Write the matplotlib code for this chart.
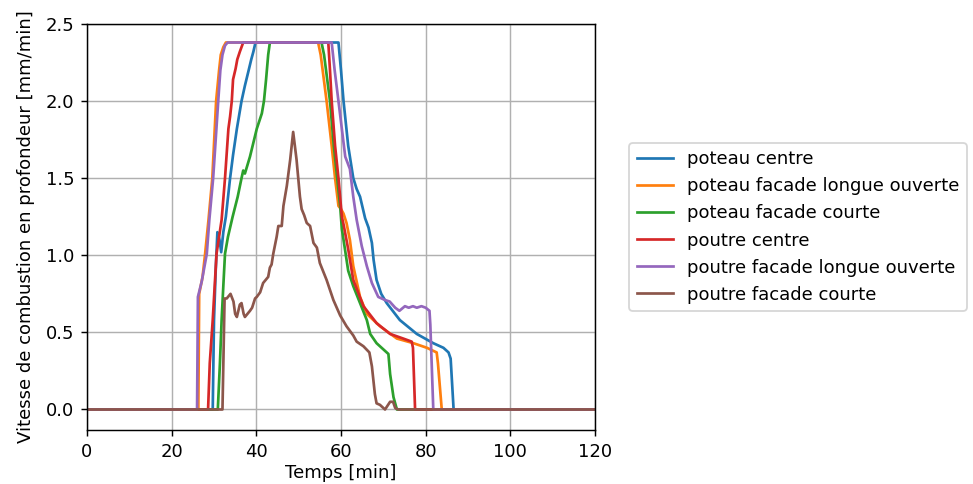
import matplotlib
matplotlib.use("Agg")
import matplotlib.pyplot as plt

# temps [min] / vitesse [mm/min]
t_poteau_centre = [0, 29.7, 30.0, 30.4, 30.8, 31.3, 31.7, 32.2, 32.8, 33.8, 34.5, 35.4, 36.5, 37.3,
                   38.1, 38.8, 39.3, 39.8, 59.4, 60.0, 60.6, 61.7, 62.9, 63.7, 64.5, 65.7, 66.5,
                   67.3, 67.7, 68.4, 69.5, 70.8, 73.9, 77.9, 81.8, 84.2, 85.4, 85.9, 86.6, 120]
v_poteau_centre = [0, 0, 0.58, 0.9, 1.15, 1.1, 1.02, 1.15, 1.25, 1.5, 1.65, 1.82, 2.0, 2.1,
                   2.19, 2.27, 2.32, 2.38, 2.38, 2.2, 2.0, 1.71, 1.5, 1.43, 1.38, 1.24, 1.18,
                   1.08, 0.97, 0.84, 0.75, 0.69, 0.58, 0.49, 0.43, 0.40, 0.37, 0.33, 0, 0]

t_poteau_long = [0, 26.3, 26.5, 27.3, 27.9, 28.7, 29.6, 30.5, 31.2, 31.6, 32.2, 32.8, 54.6, 55.2,
                 56.6, 57.8, 58.6, 59.4, 60.0, 60.6, 61.3, 62.1, 62.9, 64.5, 66.1, 69.2, 73.2,
                 77.1, 80.3, 82.6, 82.9, 83.8, 120]
v_poteau_long = [0, 0, 0.75, 0.86, 1.01, 1.23, 1.5, 2.0, 2.2, 2.3, 2.35, 2.38, 2.38, 2.3,
                 2.0, 1.71, 1.5, 1.32, 1.30, 1.27, 1.21, 1.10, 0.93, 0.73, 0.62, 0.54, 0.46,
                 0.43, 0.40, 0.37, 0.30, 0, 0]

t_poteau_courte = [0, 30.9, 31.4, 31.8, 32.2, 32.6, 33.3, 34.4, 35.6, 36.5, 36.9, 37.3, 38.5,
                   40.1, 41.3, 41.8, 42.3, 42.8, 43.2, 55.4, 56.0, 57.4, 58.3, 59.1, 59.8, 60.2,
                   60.6, 61.7, 62.9, 64.5, 66.1, 66.9, 68.4, 70.4, 71.2, 71.6, 72.4, 73.2, 120]
v_poteau_courte = [0, 0, 0.3, 0.58, 0.8, 1.01, 1.12, 1.25, 1.38, 1.5, 1.55, 1.53, 1.64,
                   1.82, 1.92, 2.0, 2.14, 2.3, 2.38, 2.38, 2.3, 2.0, 1.71, 1.5, 1.32, 1.17,
                   1.10, 0.90, 0.80, 0.69, 0.58, 0.49, 0.43, 0.38, 0.36, 0.23, 0.08, 0, 0]

t_poutre_centre = [0, 28.6, 29.0, 29.7, 30.6, 31.8, 32.6, 33.4, 33.8, 34.2, 34.5, 35.1, 35.5,
                   36.1, 36.9, 57.0, 57.4, 57.8, 58.6, 59.4, 60.2, 60.6, 61.7, 62.9, 65.3,
                   68.4, 71.6, 74.7, 76.7, 77.0, 77.5, 120]
v_poutre_centre = [0, 0, 0.3, 0.58, 1.01, 1.23, 1.5, 1.82, 1.9, 2.0, 2.14, 2.21, 2.27,
                   2.32, 2.38, 2.38, 2.2, 2.0, 1.71, 1.5, 1.25, 1.20, 1.04, 0.84, 0.67,
                   0.56, 0.49, 0.46, 0.44, 0.40, 0, 0]

t_poutre_long = [0, 26.0, 26.2, 27.1, 28.3, 28.9, 29.8, 31.0, 31.5, 32.0, 32.6, 33.2, 57.8, 58.5,
                 59.4, 60.2, 61.0, 62.1, 62.9, 63.7, 64.9, 66.1, 67.3, 68.8, 70.4, 71.5, 72.8,
                 73.8, 75.1, 76.0, 77.0, 77.9, 79.0, 80.0, 80.9, 81.1, 81.8, 120]
v_poutre_long = [0, 0, 0.73, 0.83, 1.01, 1.23, 1.5, 2.0, 2.2, 2.3, 2.36, 2.38, 2.38, 2.2,
                 2.0, 1.82, 1.64, 1.56, 1.38, 1.23, 1.06, 0.93, 0.82, 0.73, 0.71, 0.70, 0.66,
                 0.64, 0.67, 0.66, 0.67, 0.66, 0.67, 0.66, 0.64, 0.55, 0, 0]

t_poutre_courte = [0, 32.0, 32.5, 33.0, 33.9, 34.6, 35.0, 35.4, 36.1, 36.5, 37.0, 37.3, 38.5,
                   39.0, 39.7, 40.1, 40.9, 41.6, 42.2, 42.8, 43.2, 43.6, 44.0, 44.8, 45.2, 46.0,
                   46.4, 47.2, 48.0, 48.7, 49.5, 50.3, 50.7, 51.3, 51.9, 52.7, 53.5, 54.3, 55.0,
                   56.6, 58.2, 59.8, 61.3, 62.9, 63.7, 65.3, 66.7, 67.3, 68.0, 68.4, 69.2, 70.4,
                   71.6, 72.3, 72.8, 73.5, 120]
v_poutre_courte = [0, 0, 0.72, 0.72, 0.75, 0.70, 0.62, 0.60, 0.68, 0.69, 0.62, 0.60, 0.64,
                   0.66, 0.72, 0.73, 0.76, 0.82, 0.84, 0.86, 0.92, 0.94, 1.01, 1.12, 1.19, 1.19,
                   1.32, 1.45, 1.62, 1.80, 1.62, 1.38, 1.30, 1.26, 1.21, 1.19, 1.08, 1.05, 0.95,
                   0.84, 0.71, 0.61, 0.54, 0.48, 0.44, 0.41, 0.37, 0.28, 0.10, 0.04, 0.03, 0.0,
                   0.05, 0.05, 0.01, 0, 0]

labels = [
    "poteau centre",
    "poteau facade longue ouverte",
    "poteau facade courte",
    "poutre centre",
    "poutre facade longue ouverte",
    "poutre facade courte",
]
series = [
    (t_poteau_centre, v_poteau_centre),
    (t_poteau_long, v_poteau_long),
    (t_poteau_courte, v_poteau_courte),
    (t_poutre_centre, v_poutre_centre),
    (t_poutre_long, v_poutre_long),
    (t_poutre_courte, v_poutre_courte),
]

DPI = 130
fig = plt.figure(figsize=(973 / DPI, 484 / DPI), dpi=DPI)
ax = fig.add_axes([87 / 973, 54 / 484, 508 / 973, 406 / 484])

for (t, v), label in zip(series, labels):
    ax.plot(t, v, label=label)

ax.set_xlim(0, 120)
ax.set_ylim(-0.133, 2.5)
ax.set_xlabel("Temps [min]", labelpad=2)
ax.set_ylabel("Vitesse de combustion en profondeur [mm/min]", labelpad=6)
ax.grid(True)
ax.legend(loc="center left", bbox_to_anchor=(1.05, 0.5))

fig.savefig("out.png", dpi=DPI)
